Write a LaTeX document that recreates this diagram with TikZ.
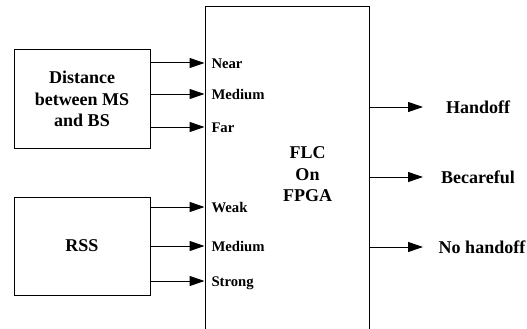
\documentclass[tikz,border=0pt]{standalone}
\usepackage{fontspec}
\setmainfont{Liberation Serif}
\usetikzlibrary{arrows.meta}
\begin{document}
\begin{tikzpicture}[x=1pt,y=-1pt, line width=1pt,
 box/.style={draw, inner sep=0pt, font=\fontsize{18}{21.5}\selectfont\bfseries, align=center},
 txt/.style={inner sep=0pt, font=\fontsize{18}{21.5}\selectfont\bfseries, align=center},
 inlab/.style={anchor=base west, inner sep=0pt, font=\fontsize{14.7}{17}\selectfont\bfseries},
 outlab/.style={anchor=base, inner sep=0pt, font=\fontsize{18}{22}\selectfont\bfseries},
 arr/.style={-{Triangle[length=15pt,width=10pt]}}]
\useasboundingbox (0,0) rectangle (527,329);
\clip (0,0) rectangle (527,329);
\node[box, minimum width=136pt, minimum height=98pt] (dist) at (82,99) {Distance\\between MS\\and BS};
\node[box, minimum width=136pt, minimum height=98pt] (rss) at (82,246) {RSS};
\node[draw, inner sep=0pt, minimum width=164pt, minimum height=330pt] (flc) at (287,172) {};
\node[txt] (flct) at (307.5,174.5) {FLC\\On\\FPGA};
% input arrows
\foreach \y/\n in {63/a,94/b,127/c,207/d,246/e,281/f}{
  \coordinate (s\n) at (dist.east |- 0,\y);
  \coordinate (t\n) at (flc.west |- 0,\y);
  \draw[arr] (s\n) -- (t\n);
}
\node[inlab] (near) at (211,68) {Near};
\node[inlab] (med1) at (211,99) {Medium};
\node[inlab] (far) at (211,132) {Far};
\node[inlab] (weak) at (211,212) {Weak};
\node[inlab] (med2) at (211,251) {Medium};
\node[inlab] (strong) at (211,286) {Strong};
% outputs
\node[outlab] (ho) at (478,113) {Handoff};
\node[outlab] (bc) at (478,183) {Becareful};
\node[outlab] (nh) at (482,253) {No handoff};
\foreach \y/\n in {107/g,177/h,247/i}{
  \coordinate (u\n) at (flc.east |- 0,\y);
  \coordinate (v\n) at (423,\y);
  \draw[arr] (u\n) -- (v\n);
}
\end{tikzpicture}
\end{document}
